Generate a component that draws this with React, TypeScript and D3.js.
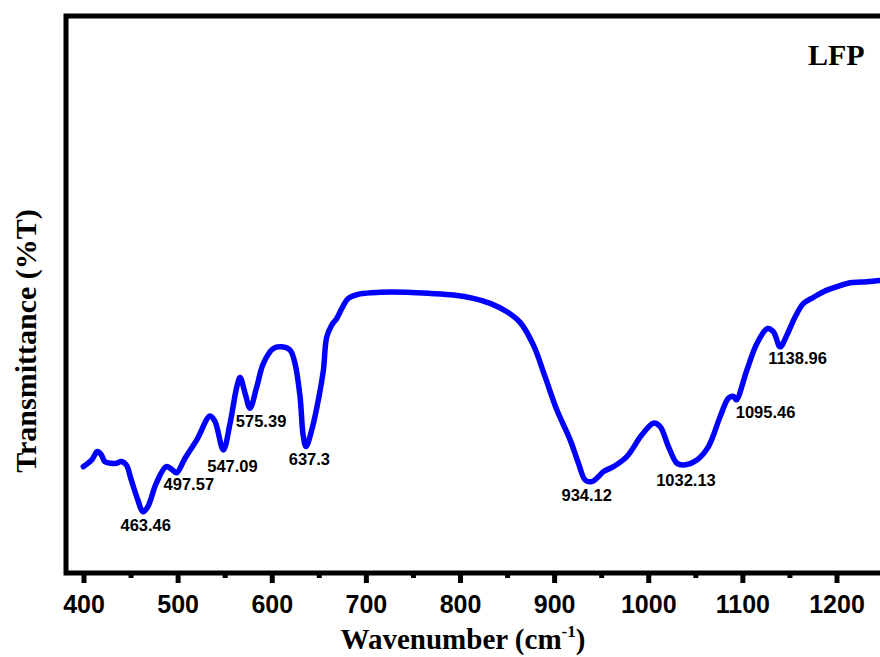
import React, { useEffect, useRef } from 'react';
import * as d3 from 'd3';

// FTIR spectrum of LFP
const wavenumbers = [
  399.3, 408.2, 414.1, 418.5, 422.0, 429.0, 434.3, 439.6, 444.9, 450.2,
  457.2, 462.5, 467.8, 476.7, 487.3, 493.2, 498.5, 507.3, 519.8, 533.9,
  539.2, 548.0, 555.2, 562.3, 565.8, 571.1, 576.4, 583.5, 590.5, 601.2,
  610.1, 618.9, 624.2, 629.5, 633.0, 635.9, 642.0, 649.0, 654.3, 657.9,
  663.2, 668.5, 673.9, 680.9, 693.3, 714.6, 742.9, 767.7, 792.5, 813.7,
  831.5, 849.3, 863.3, 877.5, 889.9, 902.3, 916.5, 925.3, 932.4, 939.5,
  946.5, 951.9, 962.5, 976.7, 992.7, 1005.0, 1012.1, 1020.9, 1029.9, 1036.9,
  1051.1, 1063.4, 1075.9, 1084.7, 1090.0, 1093.0, 1104.2, 1114.9, 1126.2, 1132.5,
  1139.6, 1146.7, 1155.6, 1164.4, 1175.0, 1185.6, 1199.9, 1214.0, 1231.8, 1245.9,
  1260.0,
];

const transmittance = [
  19.1, 20.3, 21.8, 21.2, 20.0, 19.7, 19.7, 20.0, 19.4, 16.7,
  13.1, 11.0, 11.9, 16.1, 19.1, 18.6, 18.0, 20.6, 23.9, 28.2,
  27.2, 22.1, 26.9, 33.4, 35.1, 32.3, 29.6, 33.4, 37.6, 40.3,
  40.6, 40.0, 37.6, 31.7, 24.5, 22.7, 25.7, 31.1, 36.4, 42.4,
  44.5, 45.7, 47.5, 49.3, 50.1, 50.4, 50.4, 50.2, 49.9, 49.3,
  48.4, 46.9, 45.0, 40.9, 35.2, 29.3, 23.9, 19.7, 16.7, 16.4,
  17.3, 18.2, 19.1, 20.9, 24.8, 26.9, 26.3, 22.7, 19.7, 19.4,
  20.3, 22.7, 28.1, 31.4, 31.7, 31.1, 36.4, 41.2, 43.9, 43.3,
  40.6, 42.7, 46.0, 48.4, 49.5, 50.5, 51.4, 52.1, 52.3, 52.5,
  52.6,
];

// labelled absorption bands and the transmittance at their minimum
const peakLabels = ['463.46', '497.57', '547.09', '575.39', '637.3', '934.12', '1032.13', '1095.46', '1138.96'];
const peakWavenumbers = [463.46, 497.57, 547.09, 575.39, 637.3, 934.12, 1032.13, 1095.46, 1138.96];
const peakTransmittance = [11.0, 18.0, 22.1, 29.6, 22.7, 16.4, 19.4, 31.1, 40.6];

const xTicks = [400, 500, 600, 700, 800, 900, 1000, 1100, 1200];
const xMinorTicks = [450, 550, 650, 750, 850, 950, 1050, 1150, 1250];

const App: React.FC = () => {
  const svgRef = useRef<SVGSVGElement>(null);

  useEffect(() => {
    const svg = d3.select(svgRef.current);
    svg.selectAll('*').remove();

    const width = 880;
    const height = 657;
    const left = 66;
    const top = 16;
    const bottom = 573;

    const x = d3.scaleLinear().domain([400, 1200]).range([84, 837]);
    const y = d3.scaleLinear().domain([0, 100]).range([bottom, top]);

    svg.append('rect').attr('width', width).attr('height', height).attr('fill', '#fff');

    // spectrum
    const pts = wavenumbers.map((w, i) => [w, transmittance[i]] as [number, number]);
    const line = d3
      .line<[number, number]>()
      .x((d) => x(d[0]))
      .y((d) => y(d[1]))
      .curve(d3.curveCatmullRom.alpha(0.5));

    svg
      .append('path')
      .attr('d', line(pts))
      .attr('fill', 'none')
      .attr('stroke', '#0000ff')
      .attr('stroke-width', 5.5)
      .attr('stroke-linejoin', 'round')
      .attr('stroke-linecap', 'round');

    // frame (right side runs off the picture)
    svg
      .append('path')
      .attr('d', `M${width + 10},${top}H${left}V${bottom}H${width + 10}`)
      .attr('fill', 'none')
      .attr('stroke', '#000')
      .attr('stroke-width', 5);

    // bottom ticks
    const ticks = svg.append('g');
    ticks
      .selectAll('.major')
      .data(xTicks)
      .enter()
      .append('line')
      .attr('x1', (d) => x(d))
      .attr('x2', (d) => x(d))
      .attr('y1', bottom)
      .attr('y2', bottom + 10)
      .attr('stroke', '#000')
      .attr('stroke-width', 5);
    ticks
      .selectAll('.minor')
      .data(xMinorTicks)
      .enter()
      .append('line')
      .attr('x1', (d) => x(d))
      .attr('x2', (d) => x(d))
      .attr('y1', bottom)
      .attr('y2', bottom + 5)
      .attr('stroke', '#000')
      .attr('stroke-width', 5);
    ticks
      .selectAll('text')
      .data(xTicks)
      .enter()
      .append('text')
      .attr('x', (d) => x(d))
      .attr('y', 613)
      .attr('text-anchor', 'middle')
      .attr('font-family', '"Liberation Sans", Arial, sans-serif')
      .attr('font-weight', 'bold')
      .attr('font-size', 25)
      .text((d) => d);

    // peak annotations
    const dx = [2, 13, 10, 12, 2, 0, 7, 27, 18];
    const dy = [19, 17, 22, 19, 18, 19, 21, 18, 17];
    svg
      .append('g')
      .selectAll('text')
      .data(peakLabels)
      .enter()
      .append('text')
      .attr('x', (d, i) => x(peakWavenumbers[i]) + dx[i])
      .attr('y', (d, i) => y(peakTransmittance[i]) + dy[i])
      .attr('text-anchor', 'middle')
      .attr('font-family', '"Liberation Sans", Arial, sans-serif')
      .attr('font-weight', 'bold')
      .attr('font-size', 16.5)
      .text((d) => d);

    // titles
    const serif = '"Liberation Serif", "Times New Roman", serif';
    const xTitle = svg
      .append('text')
      .attr('x', 463)
      .attr('y', 649)
      .attr('text-anchor', 'middle')
      .attr('font-family', serif)
      .attr('font-weight', 'bold')
      .attr('font-size', 29);
    xTitle.append('tspan').text('Wavenumber (cm');
    xTitle.append('tspan').attr('font-size', 17).attr('dy', -12).text('-1');
    xTitle.append('tspan').attr('dy', 12).text(')');

    svg
      .append('text')
      .attr('transform', 'translate(36,341) rotate(-90)')
      .attr('text-anchor', 'middle')
      .attr('font-family', serif)
      .attr('font-weight', 'bold')
      .attr('font-size', 30)
      .text('Transmittance (%T)');

    svg
      .append('text')
      .attr('x', 808)
      .attr('y', 65)
      .attr('font-family', serif)
      .attr('font-weight', 'bold')
      .attr('font-size', 30)
      .text('LFP');
  }, []);

  return (
    <svg
      ref={svgRef}
      width={880}
      height={657}
      style={{ position: 'absolute', left: 0, top: 0, display: 'block' }}
    />
  );
};

export default App;
